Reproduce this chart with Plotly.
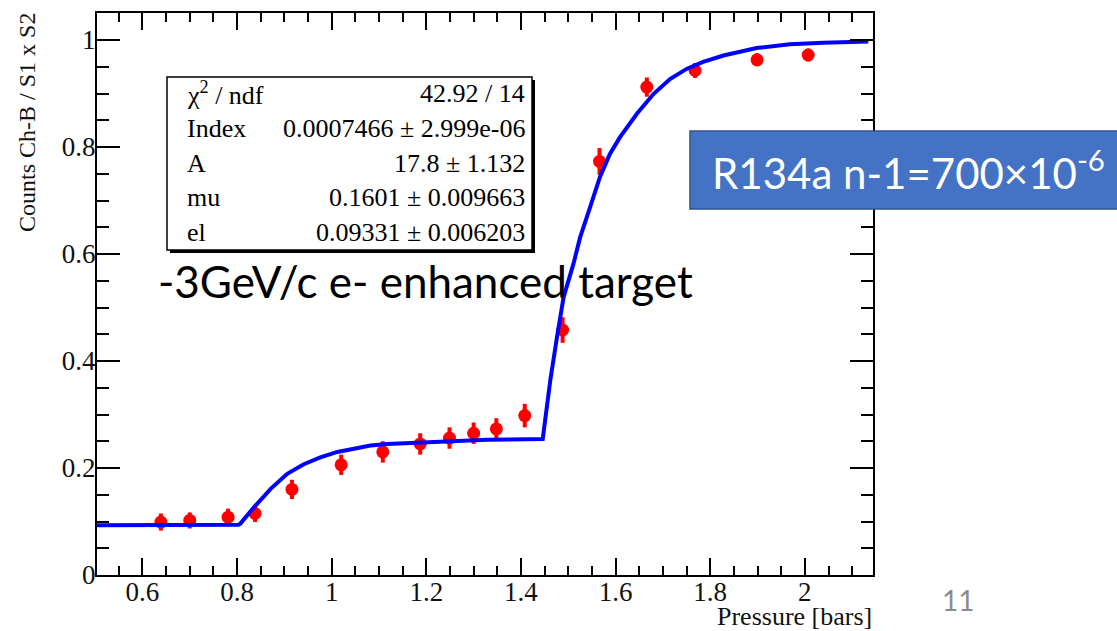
import plotly.graph_objects as go

W, H = 1117, 631

# ---------------- data ----------------
pressure = [0.639, 0.700, 0.781, 0.838, 0.916, 1.020, 1.108, 1.187, 1.249, 1.300,
            1.348, 1.408, 1.488, 1.566, 1.666, 1.768, 1.899, 2.007]
counts = [0.099, 0.102, 0.108, 0.115, 0.160, 0.206, 0.230, 0.245, 0.256, 0.265,
          0.273, 0.298, 0.458, 0.773, 0.912, 0.943, 0.963, 0.972]
counts_err = [0.016, 0.015, 0.016, 0.016, 0.018, 0.019, 0.020, 0.020, 0.020, 0.020,
              0.020, 0.022, 0.024, 0.025, 0.018, 0.014, 0.012, 0.012]

fit_x = [0.504, 0.667, 0.803, 0.807, 0.836, 0.871, 0.906, 0.941, 0.976, 1.012,
         1.047, 1.082, 1.117, 1.187, 1.258, 1.328, 1.446, 1.462, 1.476, 1.490,
         1.511, 1.525, 1.546, 1.567, 1.588, 1.609, 1.645, 1.680, 1.715, 1.750,
         1.785, 1.828, 1.898, 1.968, 2.039, 2.134]
fit_y = [0.093, 0.093, 0.094, 0.096, 0.127, 0.161, 0.189, 0.207, 0.220, 0.230,
         0.236, 0.242, 0.245, 0.248, 0.251, 0.253, 0.254, 0.364, 0.444, 0.519,
         0.582, 0.631, 0.687, 0.744, 0.787, 0.818, 0.862, 0.899, 0.927, 0.946,
         0.959, 0.971, 0.985, 0.992, 0.995, 0.997]

x_ticks = [0.6, 0.8, 1.0, 1.2, 1.4, 1.6, 1.8, 2.0]
x_tick_labels = ["0.6", "0.8", "1", "1.2", "1.4", "1.6", "1.8", "2"]
y_ticks = [0, 0.2, 0.4, 0.6, 0.8, 1.0]
y_tick_labels = ["0", "0.2", "0.4", "0.6", "0.8", "1"]

stat_names = ["χ<sup>2</sup> / ndf", "Index", "A", "mu", "el"]
stat_values = ["42.92 / 14", "0.0007466 ± 2.999e-06", "17.8 ± 1.132",
               "0.1601 ± 0.009663", "0.09331 ± 0.006203"]

x_title = "Pressure [bars]"
y_title = "Counts Ch-B / S1 x S2"
main_note = "-3GeV/c e- enhanced target"
box_note = "R134a n-1=700×10<sup>-6</sup>"
page_no = "11"

# ---------------- helpers ----------------
def px(x):
    return x / W

def py(y):
    return 1 - y / H

SERIF = "Liberation Serif, Times New Roman, serif"
SANS = "Lato, Carlito, Calibri, sans-serif"

fig = go.Figure()

fig.add_trace(go.Scatter(
    x=pressure, y=counts, mode="markers",
    marker=dict(color="#ff0000", size=13, line=dict(width=0)),
    error_y=dict(type="data", array=counts_err, color="#ff0000", thickness=4, width=0),
    showlegend=False, hoverinfo="skip"))

fig.add_trace(go.Scatter(
    x=fit_x, y=fit_y, mode="lines",
    line=dict(color="#0000ff", width=4),
    showlegend=False, hoverinfo="skip"))

axis_common = dict(
    showline=True, linecolor="black", linewidth=2, mirror="ticks",
    ticks="inside", tickcolor="black", tickwidth=1.5,
    showgrid=False, zeroline=False, automargin=False,
    tickfont=dict(family=SERIF, size=27, color="#111"),
)

fig.update_xaxes(
    range=[0.504, 2.144], domain=[px(97), px(873)],
    tickvals=x_ticks, ticktext=x_tick_labels, ticklen=17,
    minor=dict(dtick=0.05, tick0=0, ticklen=9, ticks="inside", tickcolor="black", tickwidth=1.5, showgrid=False),
    ticklabelstandoff=-8,
    **axis_common)
fig.update_yaxes(
    range=[0, 1.0505], domain=[py(575), py(13)],
    tickvals=y_ticks, ticktext=y_tick_labels, ticklen=23,
    minor=dict(dtick=0.05, tick0=0, ticklen=12, ticks="inside", tickcolor="black", tickwidth=1.5, showgrid=False),
    ticklabelstandoff=-6,
    **axis_common)

shapes = []
# stats box with shadow
shapes.append(dict(type="rect", xref="paper", yref="paper",
                   x0=px(170), x1=px(535), y0=py(253), y1=py(80),
                   fillcolor="black", line=dict(width=0), layer="above"))
shapes.append(dict(type="rect", xref="paper", yref="paper",
                   x0=px(167), x1=px(532), y0=py(250), y1=py(77),
                   fillcolor="white", line=dict(color="black", width=1.5), layer="above"))
# R134a blue box
shapes.append(dict(type="rect", xref="paper", yref="paper",
                   x0=px(690), x1=px(1125), y0=py(209), y1=py(131),
                   fillcolor="#4472C4", line=dict(color="#2F528F", width=1.5), layer="above"))

annotations = []
row_y = [94, 129, 163, 198, 233]
for name, val, ry in zip(stat_names, stat_values, row_y):
    annotations.append(dict(text=name, xref="paper", yref="paper", x=px(185), y=py(ry),
                            xanchor="left", yanchor="middle", showarrow=False,
                            font=dict(family=SERIF, size=26, color="black")))
    annotations.append(dict(text=val, xref="paper", yref="paper", x=px(527), y=py(ry),
                            xanchor="right", yanchor="middle", showarrow=False,
                            font=dict(family=SERIF, size=26, color="black")))

annotations.append(dict(text=y_title, xref="paper", yref="paper", x=px(27), y=py(123),
                        xanchor="center", yanchor="middle", textangle=-90, showarrow=False,
                        font=dict(family=SERIF, size=24, color="#111")))
annotations.append(dict(text=x_title, xref="paper", yref="paper", x=px(874), y=py(616),
                        xanchor="right", yanchor="middle", showarrow=False,
                        font=dict(family=SERIF, size=26, color="#111")))
annotations.append(dict(text=main_note, xref="paper", yref="paper", x=px(156), y=py(281),
                        xanchor="left", yanchor="middle", showarrow=False,
                        font=dict(family=SANS, size=44, color="black")))
annotations.append(dict(text=box_note, xref="paper", yref="paper", x=px(710), y=py(170),
                        xanchor="left", yanchor="middle", showarrow=False,
                        font=dict(family=SANS, size=42, color="white")))
annotations.append(dict(text=page_no, xref="paper", yref="paper", x=px(958), y=py(600),
                        xanchor="center", yanchor="middle", showarrow=False,
                        font=dict(family=SANS, size=28, color="#8b8b8b")))

fig.update_layout(
    width=W, height=H, margin=dict(l=0, r=0, t=0, b=0),
    paper_bgcolor="white", plot_bgcolor="white",
    shapes=shapes, annotations=annotations, showlegend=False)

fig.write_html("out.html")
